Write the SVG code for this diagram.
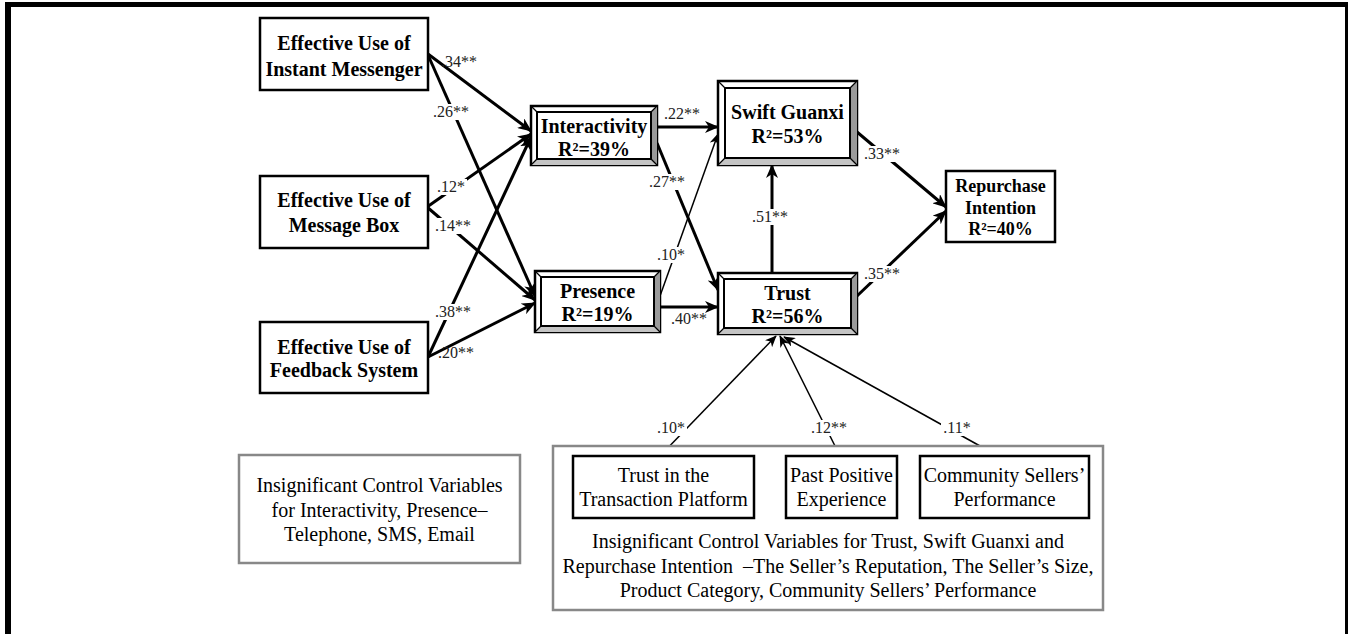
<svg xmlns="http://www.w3.org/2000/svg" width="1348" height="634" viewBox="0 0 1348 634">
<style>
.bt{font-family:"Liberation Serif","Times New Roman",serif;font-weight:bold;font-size:20px;fill:#000;text-anchor:middle}
.bs{font-family:"Liberation Serif","Times New Roman",serif;font-weight:bold;font-size:18px;fill:#000;text-anchor:middle}
.rt{font-family:"Liberation Serif","Times New Roman",serif;font-size:20px;fill:#000;text-anchor:middle}
.lbl{font-family:"Liberation Serif","Times New Roman",serif;font-size:16px;fill:#222;text-anchor:middle}
.box{fill:#fff;stroke:#000;stroke-width:2.5}
.gbox{fill:#fff;stroke:#888;stroke-width:2.5}
.outer{fill:#fff;stroke:#000;stroke-width:2.5}
.inner{fill:#fff;stroke:#000;stroke-width:2}
.fr{fill:#9a9a9a}
.fb{fill:#c4c4c4}
.dg{stroke:#000;stroke-width:1.3}
.thick{stroke:#000;stroke-width:3;fill:none;marker-end:url(#ah)}
.thin{stroke:#000;stroke-width:1.5;fill:none;marker-end:url(#ahs)}
.lb{fill:#fff}
</style>
<defs>
<marker id="ah" viewBox="0 0 14 12" refX="13" refY="6" markerWidth="14" markerHeight="12" markerUnits="userSpaceOnUse" orient="auto">
<path d="M0,0 L14,6 L0,12 L4,6 z" fill="#000"/>
</marker>
<marker id="ahs" viewBox="0 0 14 12" refX="13" refY="6" markerWidth="12" markerHeight="10" markerUnits="userSpaceOnUse" orient="auto">
<path d="M0,0 L14,6 L0,12 L4,6 z" fill="#000"/>
</marker>
</defs>

<g id="frame">
<rect x="5" y="2" width="1343" height="5" fill="#000"/>
<rect x="5" y="2" width="6" height="632" fill="#000"/>
<rect x="1345" y="2" width="3" height="632" fill="#000"/>
</g>

<g id="connectors">
<line class="thick" x1="428" y1="54" x2="531" y2="131"/>
<line class="thick" x1="428" y1="55" x2="535" y2="296"/>
<line class="thick" x1="427" y1="207" x2="531" y2="134"/>
<line class="thick" x1="427" y1="207" x2="535" y2="300"/>
<line class="thick" x1="428" y1="357" x2="531" y2="137"/>
<line class="thick" x1="428" y1="357" x2="535" y2="303"/>
<line class="thick" x1="657" y1="127" x2="718" y2="127"/>
<line class="thick" x1="657" y1="143" x2="718" y2="290"/>
<line class="thin" x1="660" y1="296" x2="718" y2="134"/>
<line class="thick" x1="660" y1="307" x2="718" y2="307"/>
<line class="thick" x1="772" y1="273" x2="772" y2="165"/>
<line class="thick" x1="857" y1="132" x2="946" y2="207"/>
<line class="thick" x1="857" y1="296" x2="946" y2="211"/>
<line class="thin" x1="660" y1="456" x2="776" y2="336"/>
<line class="thin" x1="840" y1="456" x2="780" y2="336"/>
<line class="thin" x1="998" y1="456" x2="784" y2="337"/>
</g>

<g id="labels">
<text class="lbl" x="459" y="67">.34**</text>
<rect class="lb" x="432" y="104" width="38" height="16"/>
<text class="lbl" x="451" y="117">.26**</text>
<rect class="lb" x="436" y="179" width="31" height="16"/>
<text class="lbl" x="451" y="192">.12*</text>
<rect class="lb" x="434" y="218" width="38" height="16"/>
<text class="lbl" x="453" y="231">.14**</text>
<rect class="lb" x="434" y="304" width="38" height="16"/>
<text class="lbl" x="453" y="317">.38**</text>
<text class="lbl" x="456" y="358">.20**</text>
<text class="lbl" x="682" y="119">.22**</text>
<rect class="lb" x="648" y="174" width="38" height="16"/>
<text class="lbl" x="667" y="187">.27**</text>
<rect class="lb" x="656" y="247" width="31" height="16"/>
<text class="lbl" x="671" y="260">.10*</text>
<text class="lbl" x="689" y="324">.40**</text>
<rect class="lb" x="751" y="209" width="38" height="16"/>
<text class="lbl" x="770" y="222">.51**</text>
<rect class="lb" x="863" y="146" width="38" height="16"/>
<text class="lbl" x="882" y="159">.33**</text>
<rect class="lb" x="863" y="266" width="38" height="16"/>
<text class="lbl" x="882" y="279">.35**</text>
<rect class="lb" x="655" y="420" width="32" height="16"/>
<text class="lbl" x="671" y="433">.10*</text>
<rect class="lb" x="809" y="420" width="39" height="16"/>
<text class="lbl" x="829" y="433">.12**</text>
<rect class="lb" x="941" y="420" width="32" height="16"/>
<text class="lbl" x="957" y="433">.11*</text>
</g>

<g id="node-im">
<rect class="box" x="260" y="18" width="168" height="72"/>
<text class="bt" x="344" y="50">Effective Use of</text>
<text class="bt" x="344" y="76">Instant Messenger</text>
</g>
<g id="node-mb">
<rect class="box" x="260" y="176" width="168" height="72"/>
<text class="bt" x="344" y="207">Effective Use of</text>
<text class="bt" x="344" y="232">Message Box</text>
</g>
<g id="node-fs">
<rect class="box" x="260" y="322" width="168" height="71"/>
<text class="bt" x="344" y="354">Effective Use of</text>
<text class="bt" x="344" y="377">Feedback System</text>
</g>

<g id="node-interactivity">
<rect class="outer" x="531" y="106" width="126" height="59"/>
<polygon class="fr" points="657,106 657,165 651,159 651,112"/>
<polygon class="fb" points="531,165 657,165 651,159 537,159"/>
<line class="dg" x1="531" y1="106" x2="537" y2="112"/>
<line class="dg" x1="657" y1="106" x2="651" y2="112"/>
<line class="dg" x1="531" y1="165" x2="537" y2="159"/>
<line class="dg" x1="657" y1="165" x2="651" y2="159"/>
<rect class="inner" x="537" y="112" width="114" height="47"/>
<text class="bt" x="594" y="133">Interactivity</text>
<text class="bt" x="594" y="156">R²=39%</text>
</g>

<g id="node-presence">
<rect class="outer" x="535" y="271" width="125" height="61"/>
<polygon class="fr" points="660,271 660,332 654,326 654,277"/>
<polygon class="fb" points="535,332 660,332 654,326 541,326"/>
<line class="dg" x1="535" y1="271" x2="541" y2="277"/>
<line class="dg" x1="660" y1="271" x2="654" y2="277"/>
<line class="dg" x1="535" y1="332" x2="541" y2="326"/>
<line class="dg" x1="660" y1="332" x2="654" y2="326"/>
<rect class="inner" x="541" y="277" width="113" height="49"/>
<text class="bt" x="597.5" y="298">Presence</text>
<text class="bt" x="597.5" y="321">R²=19%</text>
</g>

<g id="node-swift-guanxi">
<rect class="outer" x="718" y="81" width="139" height="84"/>
<polygon class="fr" points="857,81 857,165 850,158 850,88"/>
<polygon class="fb" points="718,165 857,165 850,158 725,158"/>
<line class="dg" x1="718" y1="81" x2="725" y2="88"/>
<line class="dg" x1="857" y1="81" x2="850" y2="88"/>
<line class="dg" x1="718" y1="165" x2="725" y2="158"/>
<line class="dg" x1="857" y1="165" x2="850" y2="158"/>
<rect class="inner" x="725" y="88" width="125" height="70"/>
<text class="bt" x="787.5" y="119">Swift Guanxi</text>
<text class="bt" x="787.5" y="143">R²=53%</text>
</g>

<g id="node-trust">
<rect class="outer" x="718" y="273" width="139" height="61"/>
<polygon class="fr" points="857,273 857,334 851,328 851,279"/>
<polygon class="fb" points="718,334 857,334 851,328 724,328"/>
<line class="dg" x1="718" y1="273" x2="724" y2="279"/>
<line class="dg" x1="857" y1="273" x2="851" y2="279"/>
<line class="dg" x1="718" y1="334" x2="724" y2="328"/>
<line class="dg" x1="857" y1="334" x2="851" y2="328"/>
<rect class="inner" x="724" y="279" width="127" height="49"/>
<text class="bt" x="787.5" y="300">Trust</text>
<text class="bt" x="787.5" y="323">R²=56%</text>
</g>

<g id="node-repurchase">
<rect class="box" x="946" y="171" width="109" height="71"/>
<text class="bs" x="1000.5" y="192">Repurchase</text>
<text class="bs" x="1000.5" y="213.5">Intention</text>
<text class="bs" x="1000.5" y="235">R²=40%</text>
</g>

<g id="node-controls-left">
<rect class="gbox" x="239" y="455" width="281" height="108"/>
<text class="rt" x="379.5" y="492">Insignificant Control Variables</text>
<text class="rt" x="379.5" y="517">for Interactivity, Presence–</text>
<text class="rt" x="379.5" y="541">Telephone, SMS, Email</text>
</g>

<g id="node-controls-trust">
<rect class="gbox" x="553" y="446" width="550" height="164"/>
<text class="rt" x="828" y="548">Insignificant Control Variables for Trust, Swift Guanxi and</text>
<text class="rt" x="828" y="573" xml:space="preserve">Repurchase Intention  –The Seller’s Reputation, The Seller’s Size,</text>
<text class="rt" x="828" y="597">Product Category, Community Sellers’ Performance</text>
</g>

<g id="node-trust-platform">
<rect class="box" x="573" y="456" width="181" height="62"/>
<text class="rt" x="663.5" y="482">Trust in the</text>
<text class="rt" x="663.5" y="506">Transaction Platform</text>
</g>
<g id="node-past-positive">
<rect class="box" x="786" y="456" width="111" height="62"/>
<text class="rt" x="841.5" y="482">Past Positive</text>
<text class="rt" x="841.5" y="506">Experience</text>
</g>
<g id="node-community">
<rect class="box" x="920" y="456" width="169" height="62"/>
<text class="rt" x="1004.5" y="482">Community Sellers’</text>
<text class="rt" x="1004.5" y="506">Performance</text>
</g>
</svg>
